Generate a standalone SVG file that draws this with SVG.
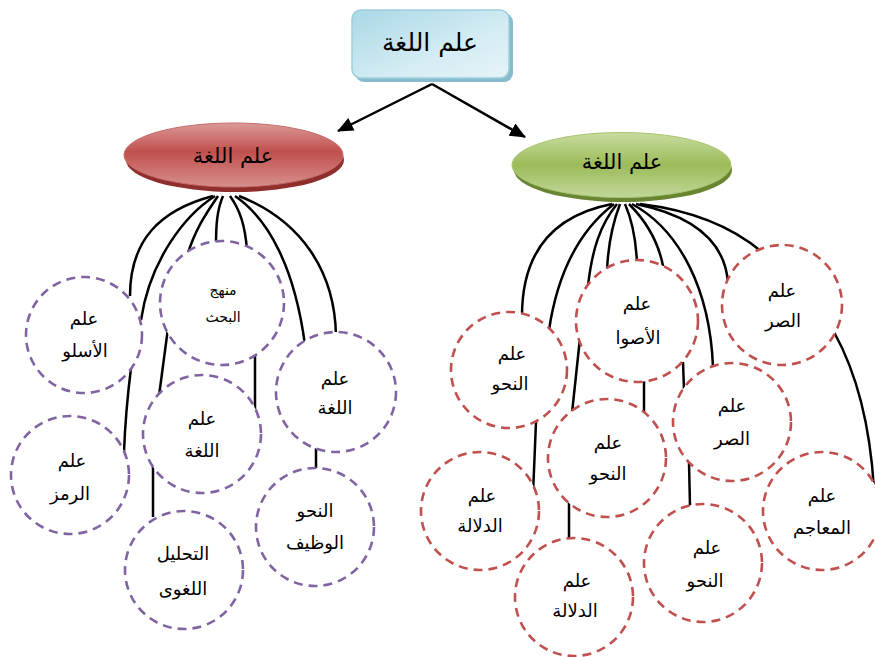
<svg xmlns="http://www.w3.org/2000/svg" width="875" height="657" viewBox="0 0 875 657">
<style>
.ln{fill:none;stroke:#000;stroke-width:2.5}
.pc{fill:#fff;stroke:#8064A2;stroke-width:2.6;stroke-dasharray:9 6}
.rc{fill:#fff;stroke:#C0504D;stroke-width:2.6;stroke-dasharray:9 6}
.t{font-family:"DejaVu Sans","Noto Sans",sans-serif;font-size:18px;fill:#000;text-anchor:middle;dominant-baseline:central}
.s{font-size:14px}
.h{font-family:"DejaVu Sans","Noto Sans",sans-serif;fill:#000;text-anchor:middle;dominant-baseline:central}
</style>
<defs>
<marker id="ah" markerUnits="userSpaceOnUse" markerWidth="16" markerHeight="14" refX="15" refY="7" orient="auto">
<path d="M0,0 L16,7 L0,14 Z" fill="#000"/>
</marker>
<linearGradient id="gb" x1="0" y1="0" x2="1" y2="1">
<stop offset="0" stop-color="#A9D8E6"/>
<stop offset="0.6" stop-color="#D4ECF3"/>
<stop offset="1" stop-color="#E6F4F8"/>
</linearGradient>
<linearGradient id="gr" x1="0" y1="0" x2="0" y2="1">
<stop offset="0" stop-color="#DA9A98"/>
<stop offset="0.45" stop-color="#C0504D"/>
<stop offset="1" stop-color="#D8908E"/>
</linearGradient>
<linearGradient id="gg" x1="0" y1="0" x2="0" y2="1">
<stop offset="0" stop-color="#C8DDA0"/>
<stop offset="0.5" stop-color="#9BBB59"/>
<stop offset="1" stop-color="#C2D79A"/>
</linearGradient>
</defs>
<g id="connectors">
<path class="ln" d="M432,84 L338,131" marker-end="url(#ah)"/>
<path class="ln" d="M432,84 L525,137" marker-end="url(#ah)"/>
<path class="ln" d="M213,196 C160,210 130,240 130,296"/>
<path class="ln" d="M215,196 C185,215 150,260 141,320"/>
<path class="ln" d="M218,196 C205,215 195,230 187,256"/>
<path class="ln" d="M223,196 C217,210 216,225 216,245"/>
<path class="ln" d="M230,196 C240,210 245,225 247,250"/>
<path class="ln" d="M235,196 C270,220 295,270 305,345"/>
<path class="ln" d="M239,196 C300,220 335,270 336,336"/>
<path class="ln" d="M131,368 C127,400 125,425 124,452"/>
<path class="ln" d="M168,328 L159,396"/>
<path class="ln" d="M255,354 L255,413"/>
<path class="ln" d="M153,465 L153,517"/>
<path class="ln" d="M316,445 L316,470"/>
<path class="ln" d="M612,204 C555,215 522,250 522,316"/>
<path class="ln" d="M614,204 C580,230 558,270 549,330"/>
<path class="ln" d="M617,204 C600,225 592,250 588,286"/>
<path class="ln" d="M620,204 C612,225 608,245 607,271"/>
<path class="ln" d="M625,204 C632,220 636,240 637,263"/>
<path class="ln" d="M629,204 C645,220 658,240 663,266"/>
<path class="ln" d="M632,204 C680,230 710,290 713,367"/>
<path class="ln" d="M636,204 C690,215 725,240 728,283"/>
<path class="ln" d="M640,204 C690,210 730,225 762,252"/>
<path class="ln" d="M580,338 L572,413"/>
<path class="ln" d="M644,380 L644,414"/>
<path class="ln" d="M683,362 L684,390"/>
<path class="ln" d="M536,422 L533,494"/>
<path class="ln" d="M569,500 L569,540"/>
<path class="ln" d="M689,462 L690,507"/>
<path class="ln" d="M834,332 C855,370 870,420 874,490"/>
</g>
<g id="root">
<rect x="355" y="13" width="158" height="69" rx="9" fill="#86BCCB"/>
<rect x="352" y="10" width="157" height="68" rx="9" fill="url(#gb)" stroke="#9FD0DE" stroke-width="1.5"/>
<text class="h" x="430" y="42" font-size="25">علم اللغة</text>
</g>
<g id="red-ellipse">
<ellipse cx="235" cy="160" rx="109" ry="32" fill="#8E2F2D"/>
<ellipse cx="233.5" cy="155" rx="109.5" ry="32" fill="url(#gr)" stroke="#C66A68" stroke-width="1"/>
<text class="h" x="233" y="156" font-size="21">علم اللغة</text>
</g>
<g id="green-ellipse">
<ellipse cx="623" cy="170" rx="109" ry="32" fill="#6A8532"/>
<ellipse cx="621.5" cy="165" rx="109.5" ry="32.5" fill="url(#gg)" stroke="#A9C56E" stroke-width="1"/>
<text class="h" x="622" y="162" font-size="21">علم اللغة</text>
</g>
<g id="n-asloub"><circle class="pc" cx="84" cy="335" r="58"/><text class="t" x="84" y="318">علم</text><text class="t" x="85" y="350">الأسلو</text></g>
<g id="n-manhaj"><circle class="pc" cx="222" cy="303" r="62"/><text class="t s" x="223" y="290">منهج</text><text class="t s" x="223" y="317">البحث</text></g>
<g id="n-lugha-r"><circle class="pc" cx="336" cy="392" r="60"/><text class="t" x="335" y="378">علم</text><text class="t" x="335" y="407">اللغة</text></g>
<g id="n-lugha-m"><circle class="pc" cx="202" cy="434" r="59"/><text class="t" x="202" y="418">علم</text><text class="t" x="202" y="450">اللغة</text></g>
<g id="n-ramz"><circle class="pc" cx="70" cy="475" r="59"/><text class="t" x="72" y="460">علم</text><text class="t" x="70" y="493">الرمز</text></g>
<g id="n-tahlil"><circle class="pc" cx="184" cy="570" r="59"/><text class="t" x="183" y="553">التحليل</text><text class="t" x="183" y="588">اللغوى</text></g>
<g id="n-nahw-w"><circle class="pc" cx="315" cy="527" r="59"/><text class="t" x="315" y="510">النحو</text><text class="t" x="315" y="542">الوظيف</text></g>
<g id="n-nahw1"><circle class="rc" cx="509" cy="370" r="58"/><text class="t" x="512" y="353">علم</text><text class="t" x="510" y="383">النحو</text></g>
<g id="n-aswat"><circle class="rc" cx="637" cy="321" r="61"/><text class="t" x="637" y="303">علم</text><text class="t" x="638" y="337">الأصوا</text></g>
<g id="n-sarf1"><circle class="rc" cx="782" cy="305" r="60"/><text class="t" x="782" y="290">علم</text><text class="t" x="783" y="320">الصر</text></g>
<g id="n-sarf2"><circle class="rc" cx="732" cy="422" r="59"/><text class="t" x="732" y="405">علم</text><text class="t" x="732" y="438">الصر</text></g>
<g id="n-nahw2"><circle class="rc" cx="607" cy="458" r="59"/><text class="t" x="608" y="442">علم</text><text class="t" x="608" y="473">النحو</text></g>
<g id="n-dalala1"><circle class="rc" cx="480" cy="511" r="59"/><text class="t" x="482" y="495">علم</text><text class="t" x="480" y="525">الدلالة</text></g>
<g id="n-dalala2"><circle class="rc" cx="574" cy="597" r="59"/><text class="t" x="577" y="580">علم</text><text class="t" x="575" y="610">الدلالة</text></g>
<g id="n-nahw3"><circle class="rc" cx="703" cy="563" r="59"/><text class="t" x="707" y="547">علم</text><text class="t" x="705" y="580">النحو</text></g>
<g id="n-maajim"><circle class="rc" cx="822" cy="511" r="59"/><text class="t" x="822" y="495">علم</text><text class="t" x="822" y="527">المعاجم</text></g>
</svg>
